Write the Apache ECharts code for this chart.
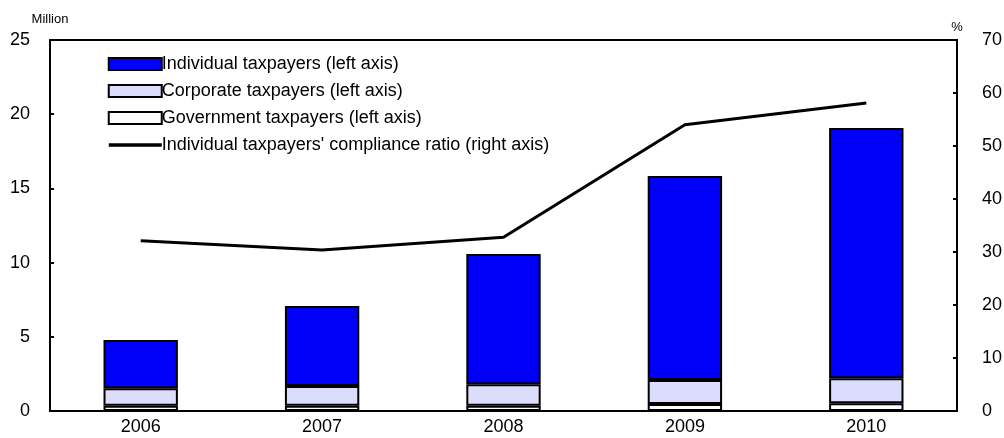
<!DOCTYPE html>
<html>
<head>
<meta charset="utf-8">
<script src="https://cdn.jsdelivr.net/npm/echarts@6/dist/echarts.min.js"></script>
<style>
  html, body { margin: 0; padding: 0; background: #fff; }
  #chart { width: 1004px; height: 438px; }
</style>
</head>
<body>
<div id="chart"></div>
<script>
// 数据
var years = ['2006', '2007', '2008', '2009', '2010'];
var government = [0.35, 0.35, 0.36, 0.47, 0.52];
var corporate = [1.18, 1.33, 1.44, 1.62, 1.68];
var individual = [3.25, 5.40, 8.78, 13.75, 16.87];
var complianceRatio = [32.1, 30.4, 32.8, 54.0, 58.1];

var font = "'Liberation Sans', Arial, sans-serif";

var chart = echarts.init(document.getElementById('chart'));
chart.setOption({
  animation: false,
  textStyle: { fontFamily: font, color: '#000' },
  grid: {
    left: 50, right: 47, top: 40, bottom: 27,
    containLabel: false,
    outerBoundsMode: 'none',
    show: true, borderColor: '#000', borderWidth: 2
  },
  legend: {
    orient: 'vertical',
    left: 102, top: 50,
    itemWidth: 53, itemHeight: 12,
    itemGap: 9,
    textStyle: { fontFamily: font, fontSize: 18, color: '#000', padding: [0, 0, 0, -5] },
    data: [
      { name: 'Individual taxpayers (left axis)', icon: 'rect' },
      { name: 'Corporate taxpayers (left axis)', icon: 'rect' },
      { name: 'Government taxpayers (left axis)', icon: 'rect' },
      {
        name: "Individual taxpayers' compliance ratio (right axis)",
        itemStyle: { opacity: 0 },
        lineStyle: { color: '#000', width: 3.5 }
      }
    ]
  },
  xAxis: {
    type: 'category',
    data: years,
    axisLine: { lineStyle: { color: '#000', width: 2 } },
    axisTick: { show: false },
    axisLabel: { color: '#000', fontSize: 18, fontFamily: font, margin: 7 }
  },
  yAxis: [
    {
      type: 'value', min: 0, max: 25, interval: 5,
      name: 'Million', nameGap: 14,
      nameTextStyle: { fontSize: 13, fontFamily: font, color: '#000', align: 'center' },
      axisLine: { show: true, lineStyle: { color: '#000', width: 2 } },
      axisTick: { show: true, inside: true, length: 4, lineStyle: { color: '#000', width: 2 } },
      axisLabel: { color: '#000', fontSize: 18, fontFamily: font, margin: 20 },
      splitLine: { show: false }
    },
    {
      type: 'value', min: 0, max: 70, interval: 10,
      name: '%', nameGap: 6,
      nameTextStyle: { fontSize: 13, fontFamily: font, color: '#000', align: 'center' },
      axisLine: { show: true, lineStyle: { color: '#000', width: 2 } },
      axisTick: { show: true, inside: true, length: 4, lineStyle: { color: '#000', width: 2 } },
      axisLabel: { color: '#000', fontSize: 18, fontFamily: font, margin: 25 },
      splitLine: { show: false }
    }
  ],
  series: [
    {
      name: 'Government taxpayers (left axis)',
      type: 'bar', stack: 'tax', barWidth: '41%',
      data: government,
      itemStyle: { color: '#ffffff', borderColor: '#000', borderWidth: 2 }
    },
    {
      name: 'Corporate taxpayers (left axis)',
      type: 'bar', stack: 'tax',
      data: corporate,
      itemStyle: { color: '#dcdcfc', borderColor: '#000', borderWidth: 2 }
    },
    {
      name: 'Individual taxpayers (left axis)',
      type: 'bar', stack: 'tax',
      data: individual,
      itemStyle: { color: '#0000fa', borderColor: '#000', borderWidth: 2 }
    },
    {
      name: "Individual taxpayers' compliance ratio (right axis)",
      type: 'line', yAxisIndex: 1,
      data: complianceRatio,
      symbol: 'none',
      lineStyle: { color: '#000', width: 3 },
      itemStyle: { color: '#000' }
    }
  ]
});
</script>
</body>
</html>
